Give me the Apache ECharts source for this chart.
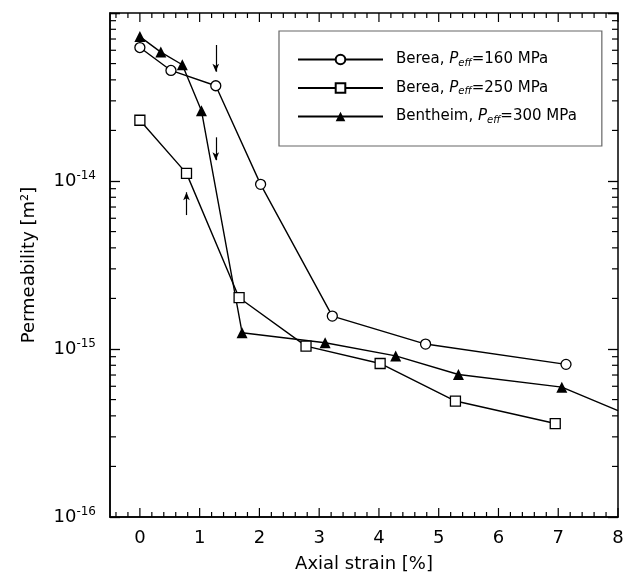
<!DOCTYPE html>
<html>
<head>
<meta charset="utf-8">
<script src="https://cdn.jsdelivr.net/npm/echarts@6/dist/echarts.min.js"></script>
<style>
  html, body { margin: 0; padding: 0; background: #fff; }
  #chart { width: 631px; height: 578px; }
</style>
</head>
<body>
<div id="chart"></div>
<script>
// axial strain [%], permeability [m2]
const bereaLowX = [0, 0.52, 1.27, 2.02, 3.22, 4.78, 7.13];
const bereaLowY = [6.23e-14, 4.55e-14, 3.69e-14, 9.55e-15, 1.57e-15, 1.07e-15, 8.1e-16];

const bereaHighX = [0, 0.78, 1.66, 2.78, 4.02, 5.28, 6.95];
const bereaHighY = [2.3e-14, 1.11e-14, 2.02e-15, 1.04e-15, 8.2e-16, 4.9e-16, 3.6e-16];

const benthX = [0, 0.35, 0.71, 1.03, 1.71, 3.1, 4.28, 5.33, 7.06, 8.0];
const benthY = [7.24e-14, 5.85e-14, 4.92e-14, 2.62e-14, 1.25e-15, 1.09e-15, 9.1e-16, 7.05e-16, 5.93e-16, 4.3e-16];

// arrows: [x, from, to]
const arrows = [
  [1.27, 6.45e-14, 4.47e-14],
  [1.27, 1.82e-14, 1.33e-14],
  [0.78, 6.27e-15, 8.57e-15]
];

const xTicks = [0, 1, 2, 3, 4, 5, 6, 7, 8];
const X_MIN = -0.5, X_MAX = 8;
const Y_MIN = 1e-16, Y_MAX = 1e-13;

const seriesNames = [
  '{f|Berea, }{i|P}{s|eff}{n|=160 MPa}',
  '{f|Berea, }{i|P}{s|eff}{n|=250 MPa}',
  '{f|Bentheim, }{i|P}{s|eff}{n|=300 MPa}'
];

// minor tick positions
const xMinor = [];
for (let i = -2; i <= 40; i++) {
  if (i % 5 !== 0) xMinor.push(i * 0.2);
}
const yMinor = [];
for (let d = -16; d <= -14; d++) {
  for (let m = 2; m <= 9; m++) yMinor.push(m * Math.pow(10, d));
}

const FONT = 'DejaVu Sans';
const chart = echarts.init(document.getElementById('chart'));

function pairs(xs, ys) {
  return xs.map((x, i) => [x, ys[i]]);
}

const lineStyle = { color: '#000', width: 1.4 };
const openItem = { color: '#fff', borderColor: '#000', borderWidth: 1.3 };
const tickStyle = { stroke: '#000', lineWidth: 1.2 };

const benthData = pairs(benthX, benthY).map((p, i) =>
  i === benthX.length - 1 ? { value: p, symbol: 'none' } : p
);

// tick marks on bottom and top edges, drawn through the x scale
function xTickSeries(name, values, len) {
  return {
    name: name, type: 'custom', silent: true,
    data: values.map(v => [v, Y_MIN]),
    renderItem: (params, api) => {
      const v = api.value(0);
      const b = api.coord([v, Y_MIN]);
      const t = api.coord([v, Y_MAX]);
      return {
        type: 'group', children: [
          { type: 'line', shape: { x1: b[0], y1: b[1], x2: b[0], y2: b[1] - len }, style: tickStyle },
          { type: 'line', shape: { x1: t[0], y1: t[1], x2: t[0], y2: t[1] + len }, style: tickStyle }
        ]
      };
    }
  };
}

const option = {
  animation: false,
  textStyle: { fontFamily: FONT },
  grid: {
    left: 110, right: 13, top: 13, bottom: 59,
    show: true, borderColor: '#000', borderWidth: 1.5
  },
  legend: {
    data: seriesNames,
    orient: 'vertical',
    left: 279, top: 31,
    itemWidth: 85, itemHeight: 12, itemGap: 12.5,
    padding: [21, 25, 21, 18],
    borderColor: '#666', borderWidth: 1.2,
    textStyle: {
      fontFamily: FONT, fontSize: 15, color: '#000',
      rich: {
        f: { fontFamily: FONT, fontSize: 15, color: '#000', padding: [0, 0, 0, 8] },
        n: { fontFamily: FONT, fontSize: 15, color: '#000' },
        i: { fontFamily: FONT, fontSize: 15, color: '#000', fontStyle: 'italic' },
        s: { fontFamily: FONT, fontSize: 10, color: '#000', fontStyle: 'italic', padding: [7, 0, 0, 0] }
      }
    },
    selectedMode: false
  },
  xAxis: [
    {
      type: 'value', min: X_MIN, max: X_MAX, position: 'bottom',
      name: 'Axial strain [%]', nameLocation: 'middle', nameGap: 38,
      nameTextStyle: { fontFamily: FONT, fontSize: 18, color: '#000' },
      axisLine: { onZero: false, lineStyle: { color: '#000', width: 1.5 } },
      axisTick: { show: false },
      axisLabel: { customValues: xTicks, margin: 12, fontFamily: FONT, fontSize: 18, color: '#000' },
      splitLine: { show: false }
    }
  ],
  yAxis: [
    {
      type: 'log', logBase: 10, min: Y_MIN, max: Y_MAX, position: 'left',
      name: 'Permeability [m²]', nameLocation: 'middle', nameGap: 72,
      nameTextStyle: { fontFamily: FONT, fontSize: 18, color: '#000' },
      axisLine: { onZero: false, lineStyle: { color: '#000', width: 1.5 } },
      axisTick: { inside: true, length: 10, lineStyle: { color: '#000', width: 1.3 } },
      axisLabel: {
        margin: 14, color: '#000',
        formatter: (v) => {
          const e = Math.round(Math.log10(v));
          if (e === -13) return '';
          return '{b|10}{sup|' + e + '}';
        },
        rich: {
          b: { fontFamily: FONT, fontSize: 18, color: '#000' },
          sup: { fontFamily: FONT, fontSize: 12, color: '#000', padding: [0, 0, 10, 0] }
        }
      },
      splitLine: { show: false }
    },
    {
      type: 'log', logBase: 10, min: Y_MIN, max: Y_MAX, position: 'right',
      axisLine: { show: false, onZero: false },
      axisTick: { inside: true, length: 10, lineStyle: { color: '#000', width: 1.3 } },
      axisLabel: { show: false },
      splitLine: { show: false }
    }
  ],
  series: [
    {
      name: seriesNames[0], type: 'line',
      data: pairs(bereaLowX, bereaLowY),
      symbol: 'circle', symbolSize: 10,
      lineStyle: lineStyle, itemStyle: openItem,
      z: 3,
      markLine: {
        silent: true, symbol: ['none', 'arrow'], symbolSize: [5, 8],
        label: { show: false },
        lineStyle: { color: '#000', type: 'solid', width: 1.2 },
        data: arrows.map(a => [{ coord: [a[0], a[1]] }, { coord: [a[0], a[2]] }])
      }
    },
    {
      name: seriesNames[1], type: 'line',
      data: pairs(bereaHighX, bereaHighY),
      symbol: 'rect', symbolSize: 10,
      lineStyle: lineStyle, itemStyle: openItem,
      z: 3
    },
    {
      name: seriesNames[2], type: 'line',
      data: benthData,
      symbol: 'triangle', symbolSize: 11,
      lineStyle: lineStyle, itemStyle: { color: '#000' },
      z: 3
    },
    xTickSeries('xMajor', xTicks, 9),
    xTickSeries('xMinor', xMinor, 5),
    {
      name: 'yMinor', type: 'custom', silent: true,
      data: yMinor.map(v => [X_MIN, v]),
      renderItem: (params, api) => {
        const v = api.value(1);
        const l = api.coord([X_MIN, v]);
        const r = api.coord([X_MAX, v]);
        return {
          type: 'group', children: [
            { type: 'line', shape: { x1: l[0], y1: l[1], x2: l[0] + 6, y2: l[1] }, style: tickStyle },
            { type: 'line', shape: { x1: r[0], y1: r[1], x2: r[0] - 6, y2: r[1] }, style: tickStyle }
          ]
        };
      }
    }
  ]
};

chart.setOption(option);
</script>
</body>
</html>
